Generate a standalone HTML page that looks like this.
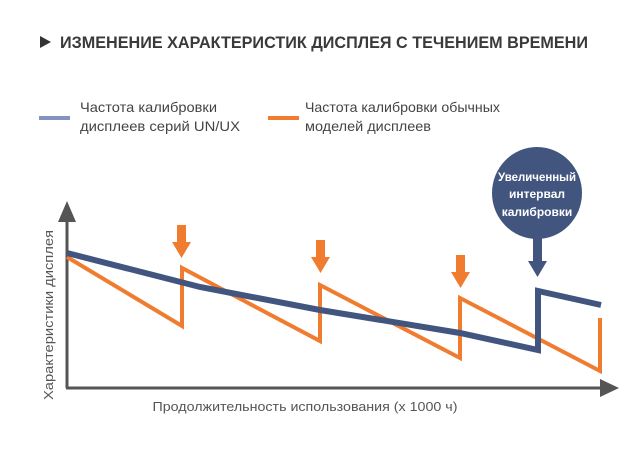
<!DOCTYPE html>
<html><head><meta charset="utf-8"><style>
body{margin:0;background:#fff;width:640px;height:448px;overflow:hidden;font-family:"Liberation Sans","DejaVu Sans",sans-serif}
</style></head><body>
<svg width="640" height="448" xmlns="http://www.w3.org/2000/svg" font-family="Liberation Sans, DejaVu Sans, sans-serif">
<polygon points="40,36 40,48 51,42" fill="#333"/>
<text x="60" y="48" font-size="17" font-weight="bold" fill="#3a3a3a" textLength="528" lengthAdjust="spacingAndGlyphs">ИЗМЕНЕНИЕ ХАРАКТЕРИСТИК ДИСПЛЕЯ С ТЕЧЕНИЕМ ВРЕМЕНИ</text>
<rect x="39" y="116" width="31" height="4" fill="#8494c0"/>
<text x="80" y="112" font-size="14" fill="#444" textLength="137" lengthAdjust="spacingAndGlyphs">Частота калибровки</text>
<text x="80" y="131" font-size="14" fill="#444" textLength="160" lengthAdjust="spacingAndGlyphs">дисплеев серий UN/UX</text>
<rect x="268" y="116" width="31" height="4" fill="#f07c30"/>
<text x="305" y="112" font-size="14" fill="#444" textLength="195" lengthAdjust="spacingAndGlyphs">Частота калибровки обычных</text>
<text x="305" y="131" font-size="14" fill="#444" textLength="126" lengthAdjust="spacingAndGlyphs">моделей дисплеев</text>
<line x1="67" y1="215" x2="67" y2="388" stroke="#555" stroke-width="3"/>
<polygon points="58,222 76,222 67,201" fill="#555"/>
<line x1="66" y1="388" x2="605" y2="388" stroke="#555" stroke-width="3"/>
<polygon points="600,379 600,397 619,388" fill="#555"/>
<polyline points="67,257 182,326 182,268 320,341 320,285 460,358 460,298 600,371 600,318" fill="none" stroke="#f07c30" stroke-width="4"/>
<polyline points="67,253 200,287 320,310 460,333 538,350 538,291 601,305" fill="none" stroke="#41557f" stroke-width="6"/>
<g fill="#f07c30">
<rect x="177" y="225" width="9" height="18"/><polygon points="172,242 191,242 181.5,258"/>
<rect x="316" y="240" width="9" height="18"/><polygon points="311,257 330,257 320.5,273"/>
<rect x="456" y="255" width="9" height="18"/><polygon points="451,272 470,272 460.5,288"/>
</g>
<ellipse cx="537" cy="193" rx="45" ry="46" fill="#41557f"/>
<rect x="533" y="230" width="9" height="32" fill="#41557f"/>
<polygon points="528,261 547,261 537.5,277" fill="#41557f"/>
<text x="537" y="181" font-size="12" font-weight="bold" fill="#fff" text-anchor="middle" textLength="78" lengthAdjust="spacingAndGlyphs">Увеличенный</text>
<text x="537" y="198" font-size="12" font-weight="bold" fill="#fff" text-anchor="middle">интервал</text>
<text x="537" y="216" font-size="12" font-weight="bold" fill="#fff" text-anchor="middle">калибровки</text>
<text transform="translate(53,315) rotate(-90)" font-size="13" fill="#555" text-anchor="middle" textLength="170" lengthAdjust="spacingAndGlyphs">Характеристики дисплея</text>
<text x="305" y="411" font-size="13" fill="#555" text-anchor="middle" textLength="305" lengthAdjust="spacingAndGlyphs">Продолжительность использования (x 1000 ч)</text>
</svg>
</body></html>
